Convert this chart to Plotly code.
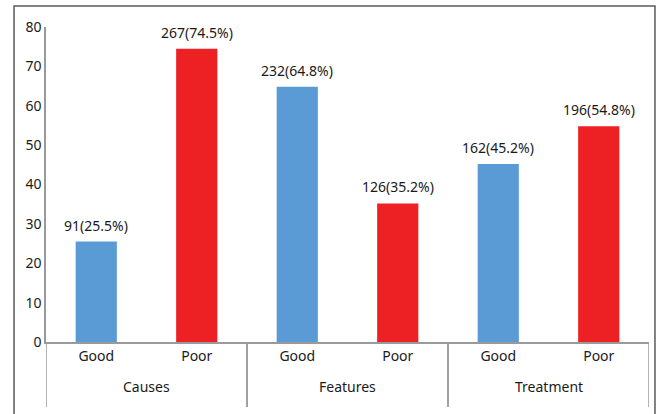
import plotly.graph_objects as go

# Assessment areas and rating levels
groups = ["Causes", "Causes", "Features", "Features", "Treatment", "Treatment"]
ratings = ["Good", "Poor", "Good", "Poor", "Good", "Poor"]
counts = [91, 267, 232, 126, 162, 196]
percents = [25.5, 74.5, 64.8, 35.2, 45.2, 54.8]

y_ticks = [0, 10, 20, 30, 40, 50, 60, 70, 80]

colors = {"Good": "#5B9BD5", "Poor": "#ED2024"}
font_family = "Noto Sans, Open Sans, sans-serif"
font_size = 14
text_color = "#1a1a1a"
axis_color = "#9a9a9a"

# one unique category per bar, labelled by its rating
keys = [f"{g}|{r}" for g, r in zip(groups, ratings)]
labels = [f"{c}({p}%)" for c, p in zip(counts, percents)]

fig = go.Figure(
    go.Bar(
        x=keys,
        y=percents,
        marker=dict(color=[colors[r] for r in ratings], line=dict(width=0)),
        width=0.41,
        hovertext=labels,
    )
)

annotations = []
# value labels above each bar
for k, p, lab in zip(keys, percents, labels):
    annotations.append(
        dict(
            x=k, y=p, xref="x", yref="y",
            text=lab, showarrow=False,
            yanchor="bottom", yshift=5,
            font=dict(family=font_family, size=font_size, color=text_color),
        )
    )

# group labels and group dividers under the axis
group_names = list(dict.fromkeys(groups))
shapes = []
for name in group_names:
    idx = [i for i, g in enumerate(groups) if g == name]
    mid = (idx[0] + idx[-1]) / 2
    annotations.append(
        dict(
            x=mid, y=-0.14, xref="x", yref="paper",
            text=name, showarrow=False,
            yanchor="middle",
            font=dict(family=font_family, size=font_size, color=text_color),
        )
    )
    for edge in (idx[0] - 0.5, idx[-1] + 0.5):
        shapes.append(
            dict(
                type="line", xref="x", yref="paper",
                x0=edge, x1=edge, y0=0, y1=-0.206,
                line=dict(color=axis_color, width=1.5),
            )
        )

# outer frame around the whole chart
shapes.append(
    dict(
        type="rect",
        xref="paper",
        yref="paper",
        x0=-0.053,
        x1=1.0099,
        y0=-0.26,
        y1=1.0667,
        line=dict(color="#595959", width=1.5),
        fillcolor="rgba(0,0,0,0)",
        layer="below",
    )
)

fig.update_layout(
    width=660,
    height=414,
    margin=dict(l=46, r=11, t=27, b=72),
    paper_bgcolor="white",
    plot_bgcolor="white",
    showlegend=False,
    font=dict(family=font_family, size=font_size, color=text_color),
    xaxis=dict(
        type="category",
        tickvals=keys,
        ticktext=ratings,
        range=[-0.5, len(keys) - 0.5],
        showline=True,
        linecolor=axis_color,
        linewidth=1.5,
        showgrid=False,
        ticks="",
        tickfont=dict(family=font_family, size=font_size, color=text_color),
    ),
    yaxis=dict(
        range=[0, 80],
        tickvals=y_ticks,
        showline=True,
        linecolor=axis_color,
        linewidth=1.5,
        showgrid=False,
        zeroline=False,
        ticks="",
        tickfont=dict(family=font_family, size=font_size, color=text_color),
    ),
    annotations=annotations,
    shapes=shapes,
)

fig.write_html("out.html")
